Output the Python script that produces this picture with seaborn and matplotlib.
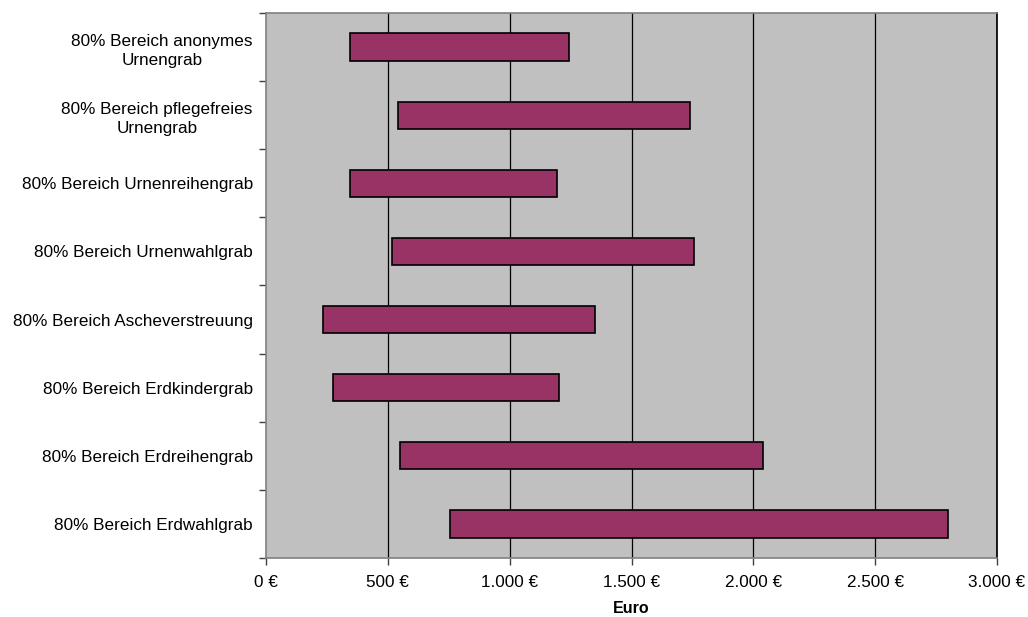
import matplotlib
matplotlib.use("Agg")
import matplotlib.pyplot as plt
import seaborn as sns
import pandas as pd
import numpy as np

categories = [
    "80% Bereich anonymes\nUrnengrab",
    "80% Bereich pflegefreies\nUrnengrab",
    "80% Bereich Urnenreihengrab",
    "80% Bereich Urnenwahlgrab",
    "80% Bereich Ascheverstreuung",
    "80% Bereich Erdkindergrab",
    "80% Bereich Erdreihengrab",
    "80% Bereich Erdwahlgrab",
]
low = [344, 541, 344, 519, 233, 273, 550, 755]
high = [1245, 1740, 1196, 1756, 1351, 1203, 2040, 2801]
xticks = [0, 500, 1000, 1500, 2000, 2500, 3000]
xticklabels = ["0 €", "500 €", "1.000 €", "1.500 €", "2.000 €", "2.500 €", "3.000 €"]

df = pd.DataFrame({"cat": categories, "low": low, "high": high})
df["width"] = df["high"] - df["low"]

sns.set_theme(style="white")
plt.rcParams["font.family"] = ["Liberation Sans", "DejaVu Sans"]
plt.rcParams["text.color"] = "black"
plt.rcParams["xtick.color"] = "black"
plt.rcParams["ytick.color"] = "black"
plt.rcParams["axes.labelcolor"] = "black"

fig = plt.figure(figsize=(10.28, 6.17), dpi=100)
ax = fig.add_axes([0.2588, 0.0956, 0.9698 - 0.2588, 0.979 - 0.0956])
ax.set_facecolor("#C0C0C0")

sns.barplot(data=df, x="width", y="cat", orient="h", color="#993366",
            edgecolor="black", linewidth=1.2, width=0.4, saturation=1, ax=ax)
for p, lo in zip(ax.patches, df["low"]):
    p.set_x(lo)

ax.set_xlim(0, 3000)
ax.set_ylim(len(categories) - 0.5, -0.5)
ax.set_xticks(xticks)
ax.set_xticklabels(xticklabels, fontsize=12.3, color="black")
for x in xticks[1:]:
    ax.axvline(x, color="black", linewidth=0.9, zorder=0.5)
ax.set_axisbelow(True)

ax.set_yticks(range(len(categories)))
ax.set_yticklabels(categories, fontsize=12.3, ha="right", multialignment="center",
                   linespacing=1.4, color="black")
ax.tick_params(axis="y", which="major", length=0, pad=9.5)
ax.set_yticks(np.arange(-0.5, len(categories), 1.0), minor=True)
ax.tick_params(axis="y", which="minor", length=5, width=1, color="#404040", left=True, direction="out")
ax.tick_params(axis="x", which="major", length=5, width=1, color="#404040", bottom=True, direction="out", pad=7)

for s in ["left", "bottom", "top"]:
    ax.spines[s].set_color("#808080")
    ax.spines[s].set_linewidth(1.2)
ax.spines["right"].set_color("black")

ax.set_xlabel("Euro", fontsize=11.5, fontweight="bold", labelpad=8, color="black")
ax.set_ylabel("")

fig.savefig("out.png", dpi=100)
